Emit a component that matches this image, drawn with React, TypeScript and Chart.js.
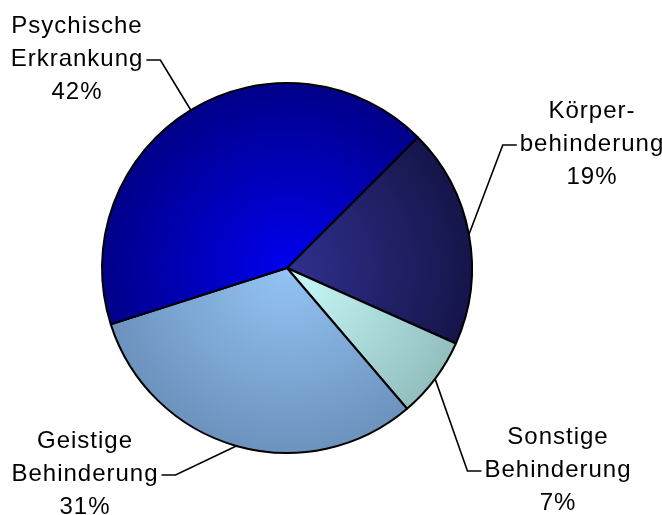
import React, { useEffect, useRef } from "react";
import { Chart, registerables } from "chart.js";
Chart.register(...registerables);

// Data (clockwise, starting at the upper right)
const categories = ["Körperbehinderung", "Sonstige Behinderung", "Geistige Behinderung", "Psychische Erkrankung"];
const values = [19, 7, 31, 42];
const labelLines = [
  ["Körper-", "behinderung", "19%"],
  ["Sonstige", "Behinderung", "7%"],
  ["Geistige", "Behinderung", "31%"],
  ["Psychische", "Erkrankung", "42%"],
];
const innerColors = ["#30308f", "#cafcfc", "#94c4f4", "#0000ee"];
const outerColors = ["#15154a", "#92bebe", "#6c92bd", "#000088"];

// label layout: text centre x, first line y, side of leader ("left" = leader leaves from the text's left edge)
const labelLayout = [
  { cx: 592, y: 111, side: "left" },
  { cx: 558, y: 437, side: "left" },
  { cx: 85, y: 441, side: "right" },
  { cx: 77, y: 26, side: "right" },
];
const LINE_H = 33;
const FONT = "24px 'Liberation Sans', Arial, sans-serif";

const labelPlugin = {
  id: "pieLabels",
  afterDraw(chart: any) {
    const ctx = chart.ctx as CanvasRenderingContext2D;
    const meta = chart.getDatasetMeta(0);
    ctx.save();
    ctx.font = FONT;
    try { (ctx as any).letterSpacing = "1px"; } catch (e) {}
    ctx.fillStyle = "#000";
    ctx.textAlign = "center";
    ctx.textBaseline = "middle";
    meta.data.forEach((arc: any, i: number) => {
      const L = labelLayout[i];
      const lines = labelLines[i];
      lines.forEach((t, k) => ctx.fillText(t, L.cx, L.y + k * LINE_H));
      const w = ctx.measureText(lines[1]).width;
      const ly = L.y + LINE_H + 1;
      const sx = L.side === "left" ? L.cx - w / 2 - 3 : L.cx + w / 2 + 3;
      const ex = L.side === "left" ? sx - 14 : sx + 14;
      const mid = (arc.startAngle + arc.endAngle) / 2;
      const ax = arc.x + Math.cos(mid) * arc.outerRadius;
      const ay = arc.y + Math.sin(mid) * arc.outerRadius;
      ctx.beginPath();
      ctx.strokeStyle = "#000";
      ctx.lineWidth = 1.6;
      ctx.moveTo(sx, ly);
      ctx.lineTo(ex, ly);
      ctx.lineTo(ax, ay);
      ctx.stroke();
    });
    ctx.restore();
  },
};

export default function App() {
  const ref = useRef<HTMLCanvasElement>(null);
  useEffect(() => {
    if (!ref.current) return;
    const bg = (c: any) => {
      const chart = c.chart;
      const area = chart.chartArea;
      const i = c.dataIndex;
      if (!area) return innerColors[i];
      const cx = (area.left + area.right) / 2;
      const cy = (area.top + area.bottom) / 2;
      const r = Math.min(area.right - area.left, area.bottom - area.top) / 2;
      const g = chart.ctx.createRadialGradient(cx, cy, 0, cx, cy, r);
      g.addColorStop(0, innerColors[i]);
      g.addColorStop(1, outerColors[i]);
      return g;
    };
    const chart = new Chart(ref.current, {
      type: "pie",
      data: {
        labels: categories,
        datasets: [
          {
            data: values,
            backgroundColor: bg,
            borderColor: "#000",
            borderWidth: 2,
          },
        ],
      },
      options: {
        responsive: false,
        animation: false,
        rotation: 45,
        layout: { padding: { left: 101, right: 189, top: 82, bottom: 61 } },
        plugins: { legend: { display: false }, tooltip: { enabled: false } },
      },
      plugins: [labelPlugin],
    });
    return () => chart.destroy();
  }, []);
  return (
    <div style={{ position: "absolute", left: 0, top: 0, width: 662, height: 515, background: "#fff" }}>
      <canvas ref={ref} width={662} height={515} />
    </div>
  );
}
